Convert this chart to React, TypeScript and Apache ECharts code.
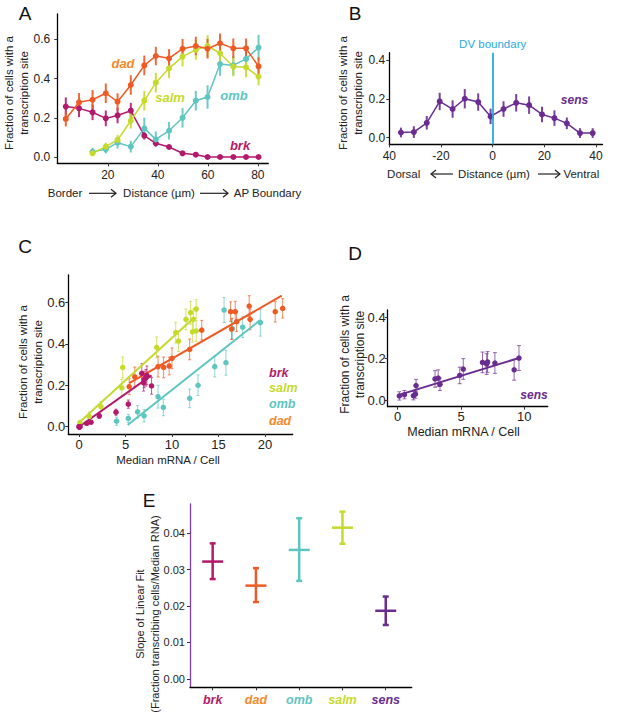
import React, { useEffect, useRef } from "react";
import * as echarts from "echarts";

const FONT = '"Liberation Sans", Arial, Helvetica, sans-serif';
const C_BRK = "#B3196B";
const C_DAD = "#EE5A24";
const C_DAD_TXT = "#F58A2A";
const C_SALM = "#C6D92D";
const C_OMB = "#5EC5C0";
const C_SENS = "#6A2C90";
const C_DV = "#29ABE2";
const C_AXIS_E = "#7E3CC0";

// ---------- Panel A: fraction vs distance (AP) ----------
const distA = [3.2, 8.5, 13.9, 19.2, 23.9, 29.2, 34.6, 39.2, 44.5, 49.9, 55.2, 59.9, 64.9, 70.2, 75.3, 80.3];
const distA14 = [13.9, 19.2, 23.9, 29.2, 34.6, 39.2, 44.5, 49.9, 55.2, 59.9, 64.9, 70.2, 75.3, 80.3];
const dadA = [0.194, 0.279, 0.292, 0.325, 0.282, 0.367, 0.467, 0.515, 0.503, 0.552, 0.566, 0.552, 0.58, 0.554, 0.554, 0.462];
const dadAErr = [0.038, 0.047, 0.05, 0.05, 0.043, 0.05, 0.05, 0.047, 0.047, 0.05, 0.047, 0.05, 0.05, 0.05, 0.05, 0.047];
const brkA = [0.257, 0.248, 0.228, 0.197, 0.212, 0.236, 0.109, 0.07, 0.051, 0.019, 0.012, 0, 0, 0, 0, 0];
const brkAErr = [0.047, 0.045, 0.04, 0.04, 0.04, 0.04, 0.02, 0.015, 0.012, 0.008, 0.006, 0.002, 0.002, 0.002, 0.002, 0.002];
const salmA = [0.019, 0.053, 0.087, 0.185, 0.287, 0.379, 0.452, 0.512, 0.546, 0.566, 0.529, 0.461, 0.457, 0.41];
const salmAErr = [0.012, 0.02, 0.025, 0.04, 0.05, 0.05, 0.05, 0.05, 0.05, 0.055, 0.05, 0.05, 0.05, 0.045];
const ombA = [0.027, 0.039, 0.073, 0.053, 0.146, 0.09, 0.134, 0.2, 0.287, 0.306, 0.474, 0.467, 0.5, 0.558];
const ombAErr = [0.02, 0.02, 0.03, 0.03, 0.055, 0.04, 0.045, 0.05, 0.05, 0.06, 0.06, 0.05, 0.05, 0.065];
const ticksAx = [20, 40, 60, 80];
const ticksAy = [0, 0.2, 0.4, 0.6];

// ---------- Panel B: sens vs distance (DV) ----------
const distB = [-35.5, -30.5, -25.5, -20.5, -15.5, -10.8, -5.6, -0.8, 4.2, 9.1, 14.1, 19.1, 23.9, 28.7, 33.8, 38.7];
const sensB = [0.027, 0.029, 0.077, 0.187, 0.148, 0.201, 0.184, 0.11, 0.148, 0.18, 0.168, 0.12, 0.101, 0.074, 0.024, 0.024];
const sensBErr = [0.025, 0.03, 0.035, 0.045, 0.045, 0.05, 0.045, 0.04, 0.04, 0.045, 0.045, 0.04, 0.04, 0.03, 0.025, 0.025];
const ticksBx = [-40, -20, 0, 20, 40];
const tickLabelsBx = ["40", "-20", "0", "20", "40"];
const ticksBy = [0, 0.2, 0.4];

// ---------- Panel C: fraction vs median mRNA ----------
const brkCx = [6.75, 7.3, 7.0, 7.8, 6.95, 7.2, 5.3, 3.98, 2.18, 1.29, 0.83, 0.1, 0.05, 0.0, 0.02, 0.08];
const brkCy = [0.257, 0.248, 0.228, 0.197, 0.212, 0.236, 0.109, 0.07, 0.052, 0.022, 0.016, 0, 0, 0, 0, 0];
const salmCx = [0.1, 1.1, 2.37, 4.6, 4.7, 8.35, 10.4, 10.7, 11.5, 12.0, 12.3, 12.2, 12.6, 12.6];
const salmCy = [0.019, 0.05, 0.097, 0.188, 0.286, 0.383, 0.454, 0.413, 0.518, 0.55, 0.518, 0.458, 0.462, 0.568];
const ombCx = [4.05, 5.3, 6.3, 7.0, 8.5, 9.07, 11.9, 12.8, 14.6, 15.8, 15.6, 16.5, 17.6, 19.5];
const ombCy = [0.027, 0.04, 0.072, 0.053, 0.145, 0.093, 0.137, 0.2, 0.29, 0.309, 0.563, 0.473, 0.48, 0.502];
const dadCx = [5.4, 6.0, 8.5, 9.1, 9.7, 10.0, 11.9, 13.2, 16.3, 16.8, 16.95, 16.4, 18.3, 18.4, 21.1, 21.9];
const dadCy = [0.193, 0.241, 0.29, 0.286, 0.293, 0.33, 0.373, 0.466, 0.555, 0.555, 0.507, 0.471, 0.582, 0.518, 0.555, 0.571];
const fitBrkC = [[0, 0.0], [7.8, 0.248]];
const fitSalmC = [[0, 0.019], [12.1, 0.515]];
const fitOmbC = [[5.23, 0.008], [19.5, 0.515]];
const fitDadC = [[5.4, 0.21], [21.8, 0.632]];
const ticksCx = [0, 5, 10, 15, 20];
const ticksCy = [0, 0.2, 0.4, 0.6];

// ---------- Panel D: sens vs median mRNA ----------
const sensDx = [0.13, 0.53, 1.24, 1.4, 1.45, 2.95, 3.2, 3.34, 4.9, 5.18, 6.7, 7.03, 7.1, 7.68, 9.2, 9.58];
const sensDy = [0.02, 0.026, 0.021, 0.029, 0.07, 0.102, 0.106, 0.076, 0.119, 0.15, 0.182, 0.174, 0.184, 0.179, 0.146, 0.203];
const sensDErr = [0.02, 0.02, 0.02, 0.02, 0.03, 0.04, 0.04, 0.03, 0.04, 0.05, 0.05, 0.05, 0.05, 0.05, 0.05, 0.06];
const fitSensD = [[0.05, 0.024], [9.58, 0.203]];
const ticksDx = [0, 5, 10];
const ticksDy = [0, 0.2, 0.4];

// ---------- Panel E: slope of linear fit ----------
const genesE = ["brk", "dad", "omb", "salm", "sens"];
const slopeE = [0.0322, 0.0256, 0.0354, 0.0415, 0.0187];
const slopeLoE = [0.0274, 0.0211, 0.0269, 0.0371, 0.0148];
const slopeHiE = [0.0372, 0.0304, 0.0441, 0.0459, 0.0226];
const colorsE = [C_BRK, C_DAD, C_OMB, C_SALM, C_SENS];
const labelColorsE = [C_BRK, C_DAD_TXT, C_OMB, C_SALM, C_SENS];
const ticksEy = [0, 0.01, 0.02, 0.03, 0.04];

function xAxisCfg(gi: number, min: number, max: number, ticks: number[], fmt: any, fs: number, margin: number, lineColor = "#000") {
  return {
    type: "value", gridIndex: gi, min, max,
    axisLine: { show: true, onZero: false, lineStyle: { color: lineColor, width: 1.3 } },
    axisTick: { show: true, length: 3, inside: false, customValues: ticks, lineStyle: { color: "#333", width: 1 } },
    axisLabel: { show: true, customValues: ticks, formatter: fmt, fontSize: fs, color: "#222", margin, fontFamily: FONT },
    splitLine: { show: false },
  };
}

function errSeries(gi: number, xs: number[], ys: number[], es: number[], color: string, lw: number, cap: number, opacity: number) {
  return {
    type: "custom", xAxisIndex: gi, yAxisIndex: gi, silent: true, z: 2,
    data: xs.map((x, i) => [x, ys[i], es[i]]),
    renderItem: (_p: any, api: any) => {
      const x = api.value(0), y = api.value(1), e = api.value(2);
      const a = api.coord([x, y - e]);
      const b = api.coord([x, y + e]);
      const children: any[] = [
        { type: "line", shape: { x1: a[0], y1: a[1], x2: b[0], y2: b[1] }, style: { stroke: color, lineWidth: lw, opacity } },
      ];
      if (cap > 0) {
        children.push({ type: "line", shape: { x1: a[0] - cap, y1: a[1], x2: a[0] + cap, y2: a[1] }, style: { stroke: color, lineWidth: lw, opacity } });
        children.push({ type: "line", shape: { x1: b[0] - cap, y1: b[1], x2: b[0] + cap, y2: b[1] }, style: { stroke: color, lineWidth: lw, opacity } });
      }
      return { type: "group", children };
    },
  };
}

function lineSeries(gi: number, xs: number[], ys: number[], color: string, size: number) {
  return {
    type: "line", xAxisIndex: gi, yAxisIndex: gi, silent: true, z: 3,
    data: xs.map((x, i) => [x, ys[i]]),
    symbol: "circle", symbolSize: size, showSymbol: true,
    lineStyle: { color, width: 1.5 }, itemStyle: { color },
  };
}

function scatterSeries(gi: number, xs: number[], ys: number[], color: string, size: number) {
  return {
    type: "scatter", xAxisIndex: gi, yAxisIndex: gi, silent: true, z: 4,
    data: xs.map((x, i) => [x, ys[i]]),
    symbol: "circle", symbolSize: size, itemStyle: { color, opacity: 1 },
  };
}

function fitSeries(gi: number, pts: number[][], color: string) {
  return {
    type: "line", xAxisIndex: gi, yAxisIndex: gi, silent: true, z: 3,
    data: pts, showSymbol: false, symbol: "none",
    lineStyle: { color, width: 2 },
  };
}

function txt(x: number, y: number, text: string, opts: any = {}) {
  const { size = 11.5, color = "#222", weight = "normal", style = "normal", align = "center", rot = 0, lh = 14.5 } = opts;
  return {
    type: "text", x, y, rotation: rot, silent: true,
    style: {
      text, fill: color, fontSize: size, fontFamily: FONT, fontWeight: weight, fontStyle: style,
      align, verticalAlign: "middle", textAlign: align, textVerticalAlign: "middle", lineHeight: lh,
    },
  };
}

function arrow(x1: number, x2: number, y: number) {
  const dir = x2 > x1 ? 1 : -1;
  const hx = x2 - dir * 5;
  return [
    { type: "line", silent: true, shape: { x1, y1: y, x2, y2: y }, style: { stroke: "#222", lineWidth: 1.2 } },
    { type: "polyline", silent: true, shape: { points: [[hx, y - 4], [x2, y], [hx, y + 4]] }, style: { stroke: "#222", lineWidth: 1.2, fill: "none" } },
  ];
}

export default function App() {
  const ref = useRef<HTMLDivElement>(null);
  useEffect(() => {
    document.body.style.margin = "0";
    if (!ref.current) return;
    const chart = echarts.init(ref.current, undefined, { renderer: "svg" });
    const f1 = (v: number) => v.toFixed(1);
    const f0 = (v: number) => String(v);
    const f2 = (v: number) => v.toFixed(2);
    const fB = (v: number) => tickLabelsBx[ticksBx.indexOf(v)] ?? String(v);
    const richE: any = {};
    genesE.forEach((g, i) => {
      richE["g" + i] = { color: labelColorsE[i], fontStyle: "italic", fontWeight: "bold", fontSize: 12.5, fontFamily: FONT };
    });
    const fE = (v: number) => {
      const i = Math.round(v) - 1;
      return "{g" + i + "|" + genesE[i] + "}";
    };

    const yTitle = "Fraction of cells with a\ntranscription site";
    const R = -Math.PI / 2;

    const option: any = {
      animation: false,
      backgroundColor: "#fff",
      grid: [
        { left: 57.3, top: 14, width: 211, height: 149.3, outerBoundsMode: "none" },
        { left: 389.3, top: 52.7, width: 213.2, height: 91.6, outerBoundsMode: "none" },
        { left: 68.3, top: 275, width: 224.4, height: 159, outerBoundsMode: "none" },
        { left: 387.7, top: 310, width: 160, height: 96.7, outerBoundsMode: "none" },
        { left: 190, top: 504, width: 221.7, height: 183.3, outerBoundsMode: "none" },
      ],
      xAxis: [
        xAxisCfg(0, -0.2, 84.2, ticksAx, f0, 12, 6),
        xAxisCfg(1, -40, 42.5, ticksBx, fB, 12, 6),
        xAxisCfg(2, -1.15, 22.98, ticksCx, f0, 13, 4),
        xAxisCfg(3, -0.79, 11.85, ticksDx, f0, 13, 3),
        { ...xAxisCfg(4, 0.476, 5.6, [1, 2, 3, 4, 5], fE, 12.5, 6), axisLabel: { show: true, customValues: [1, 2, 3, 4, 5], formatter: fE, rich: richE, margin: 6 } },
      ],
      yAxis: [
        xAxisCfg(0, -0.032, 0.729, ticksAy, f1, 12, 7),
        xAxisCfg(1, -0.034, 0.4386, ticksBy, f1, 12, 4),
        xAxisCfg(2, -0.035, 0.732, ticksCy, f1, 13, 3),
        xAxisCfg(3, -0.032, 0.435, ticksDy, f1, 13, 2),
        xAxisCfg(4, -0.0023, 0.048, ticksEy, f2, 11, 5, C_AXIS_E),
      ],
      series: [
        // A
        errSeries(0, distA, brkA, brkAErr, C_BRK, 2, 0, 0.9),
        lineSeries(0, distA, brkA, C_BRK, 6),
        errSeries(0, distA14, ombA, ombAErr, C_OMB, 2, 0, 0.9),
        lineSeries(0, distA14, ombA, C_OMB, 6),
        errSeries(0, distA14, salmA, salmAErr, C_SALM, 2, 0, 0.9),
        lineSeries(0, distA14, salmA, C_SALM, 6),
        errSeries(0, distA, dadA, dadAErr, C_DAD, 2, 0, 0.9),
        lineSeries(0, distA, dadA, C_DAD, 6),
        // B
        errSeries(1, distB, sensB, sensBErr, C_SENS, 2, 0, 0.9),
        {
          ...lineSeries(1, distB, sensB, C_SENS, 6),
          markLine: {
            silent: true, symbol: ["none", "none"], animation: false,
            lineStyle: { color: C_DV, width: 1.8, type: "solid" },
            label: { show: true, position: "end", formatter: "DV boundary", color: C_DV, fontSize: 11.5, fontFamily: FONT, distance: 3 },
            data: [{ xAxis: 0 }],
          },
        },
        // C
        errSeries(2, brkCx, brkCy, brkAErr, C_BRK, 1, 1.5, 0.7),
        errSeries(2, salmCx, salmCy, salmAErr, C_SALM, 1, 1.5, 0.7),
        errSeries(2, ombCx, ombCy, ombAErr, C_OMB, 1, 1.5, 0.7),
        errSeries(2, dadCx, dadCy, dadAErr, C_DAD, 1, 1.5, 0.7),
        fitSeries(2, fitSalmC, C_SALM),
        fitSeries(2, fitOmbC, C_OMB),
        fitSeries(2, fitDadC, C_DAD),
        fitSeries(2, fitBrkC, C_BRK),
        scatterSeries(2, salmCx, salmCy, C_SALM, 5.5),
        scatterSeries(2, ombCx, ombCy, C_OMB, 5.5),
        scatterSeries(2, dadCx, dadCy, C_DAD, 5.5),
        scatterSeries(2, brkCx, brkCy, C_BRK, 5.5),
        // D
        errSeries(3, sensDx, sensDy, sensDErr, C_SENS, 1, 2, 0.7),
        fitSeries(3, fitSensD, C_SENS),
        scatterSeries(3, sensDx, sensDy, C_SENS, 5.5),
        // E
        {
          type: "custom", xAxisIndex: 4, yAxisIndex: 4, silent: true, z: 3,
          data: genesE.map((_, i) => [i + 1, slopeE[i], slopeLoE[i], slopeHiE[i], i]),
          renderItem: (_p: any, api: any) => {
            const x = api.value(0);
            const m = api.coord([x, api.value(1)]);
            const lo = api.coord([x, api.value(2)]);
            const hi = api.coord([x, api.value(3)]);
            const c = colorsE[api.value(4)];
            const st = { stroke: c, lineWidth: 2.5 };
            return {
              type: "group",
              children: [
                { type: "line", shape: { x1: lo[0], y1: lo[1], x2: hi[0], y2: hi[1] }, style: st },
                { type: "line", shape: { x1: lo[0] - 3, y1: lo[1], x2: lo[0] + 3, y2: lo[1] }, style: st },
                { type: "line", shape: { x1: hi[0] - 3, y1: hi[1], x2: hi[0] + 3, y2: hi[1] }, style: st },
                { type: "line", shape: { x1: m[0] - 10.5, y1: m[1], x2: m[0] + 10.5, y2: m[1] }, style: st },
              ],
            };
          },
        },
      ],
      graphic: [
        // panel letters
        txt(25, 13, "A", { size: 19, color: "#111" }),
        txt(355, 13, "B", { size: 19, color: "#111" }),
        txt(25, 246, "C", { size: 19, color: "#111" }),
        txt(355, 253, "D", { size: 19, color: "#111" }),
        txt(149, 500, "E", { size: 19, color: "#111" }),
        // y titles
        txt(16.7, 93, yTitle, { rot: -R }),
        txt(350.5, 93, yTitle, { rot: -R }),
        txt(30.8, 362, yTitle, { rot: -R, lh: 15 }),
        txt(352.5, 354.5, yTitle, { rot: -R, lh: 15, size: 12 }),
        txt(147.5, 614, "Slope of Linear Fit\n(Fraction transcribing cells/Median RNA)", { rot: -R, size: 11, lh: 15 }),
        // A x title
        txt(65, 193.3, "Border"),
        ...arrow(89, 116, 193.3),
        txt(159, 193.3, "Distance (µm)"),
        ...arrow(200, 228, 193.3),
        txt(267.5, 193.3, "AP Boundary"),
        // B x title
        txt(403.7, 174, "Dorsal"),
        ...arrow(453, 431, 174),
        txt(494, 174, "Distance (µm)"),
        ...arrow(538, 560, 174),
        txt(581.3, 174, "Ventral"),
        // C/D x titles
        txt(168, 460, "Median mRNA / Cell"),
        txt(463.5, 431.7, "Median mRNA / Cell", { size: 12.5 }),
        // A gene labels
        txt(123, 63, "dad", { size: 13, color: C_DAD_TXT, weight: "bold", style: "italic" }),
        txt(170, 97, "salm", { size: 13, color: C_SALM, weight: "bold", style: "italic" }),
        txt(234, 95, "omb", { size: 13, color: C_OMB, weight: "bold", style: "italic" }),
        txt(240, 145, "brk", { size: 13, color: C_BRK, weight: "bold", style: "italic" }),
        // B
        txt(574.5, 100, "sens", { size: 12, color: C_SENS, weight: "bold", style: "italic" }),
        // C legend
        txt(269, 372.7, "brk", { size: 12.5, color: C_BRK, weight: "bold", style: "italic", align: "left" }),
        txt(269, 387.7, "salm", { size: 12.5, color: C_SALM, weight: "bold", style: "italic", align: "left" }),
        txt(269, 404, "omb", { size: 12.5, color: C_OMB, weight: "bold", style: "italic", align: "left" }),
        txt(269, 420.7, "dad", { size: 12.5, color: C_DAD_TXT, weight: "bold", style: "italic", align: "left" }),
        // D
        txt(547.7, 395, "sens", { size: 12, color: C_SENS, weight: "bold", style: "italic", align: "right" }),
      ],
    };
    chart.setOption(option);
    return () => chart.dispose();
  }, []);
  return <div ref={ref} style={{ width: 617, height: 722 }} />;
}
